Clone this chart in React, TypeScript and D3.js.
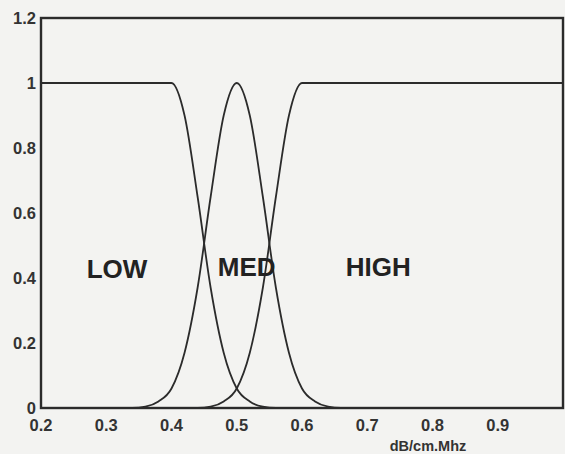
import React from "react";
import * as d3 from "d3";

// sample x positions (dB/cm.Mhz)
const xs = [0.2, 0.34, 0.36, 0.38, 0.4, 0.42, 0.44, 0.46, 0.48, 0.5, 0.52, 0.54, 0.56, 0.58, 0.6, 0.62, 0.64, 0.66, 1.0];

// membership values at those positions
const lowVals = [1, 1, 1, 1, 1, 0.9, 0.65, 0.37, 0.17, 0.06, 0.02, 0.004, 0, 0, 0, 0, 0, 0, 0];
const medVals = [0, 0, 0.004, 0.02, 0.06, 0.17, 0.37, 0.65, 0.9, 1, 0.9, 0.65, 0.37, 0.17, 0.06, 0.02, 0.004, 0, 0];
const highVals = [0, 0, 0, 0, 0, 0, 0, 0.004, 0.02, 0.06, 0.17, 0.37, 0.65, 0.9, 1, 1, 1, 1, 1];

const xTicks = [0.2, 0.3, 0.4, 0.5, 0.6, 0.7, 0.8, 0.9];
const yTicks = [0, 0.2, 0.4, 0.6, 0.8, 1, 1.2];

const setLabels = ["LOW", "MED", "HIGH"];
const labelPos = [
  [0.27, 0.4],
  [0.471, 0.405],
  [0.667, 0.405],
];

const W = 565;
const H = 454;
const margin = { top: 18, right: 2, bottom: 46, left: 41 };

const ink = "#2b2b2b";
const font = "'Liberation Sans', Arial, Helvetica, sans-serif";

export default function App() {
  const x = d3.scaleLinear().domain([0.2, 1.0]).range([margin.left, W - margin.right]);
  const y = d3.scaleLinear().domain([0, 1.2]).range([H - margin.bottom, margin.top]);

  const line = d3
    .line<number>()
    .x((_, i) => x(xs[i]))
    .y((d) => y(d))
    .curve(d3.curveMonotoneX);

  const series = [lowVals, medVals, highVals];
  const fmt = (v: number) => (v === 0 || v === 1 ? String(v) : d3.format(".1f")(v));

  return (
    <svg
      width={W}
      height={H}
      style={{ position: "fixed", left: 0, top: 0, display: "block" }}
      fontFamily={font}
    >
      <rect x={0} y={0} width={W} height={H} fill="#f3f3f1" />

      {series.map((s, i) => (
        <path key={i} d={line(s) || ""} fill="none" stroke={ink} strokeWidth={1.8} />
      ))}

      {/* frame */}
      <rect
        x={x(0.2)}
        y={y(1.2)}
        width={x(1.0) - x(0.2)}
        height={y(0) - y(1.2)}
        fill="none"
        stroke={ink}
        strokeWidth={2.4}
      />

      {yTicks.map((t) => (
        <text
          key={t}
          x={36}
          y={y(t)}
          dy="0.36em"
          textAnchor="end"
          fontSize={16.5}
          fontWeight="bold"
          fill="#333"
        >
          {fmt(t)}
        </text>
      ))}

      {xTicks.map((t) => (
        <text
          key={t}
          x={x(t)}
          y={y(0) + 23}
          textAnchor="middle"
          fontSize={16.5}
          fontWeight="bold"
          fill="#333"
        >
          {fmt(t)}
        </text>
      ))}

      <text
        x={428}
        y={451}
        textAnchor="middle"
        fontSize={14.5}
        fontWeight="bold"
        fill="#333"
      >
        dB/cm.Mhz
      </text>

      {setLabels.map((l, i) => (
        <text
          key={l}
          x={x(labelPos[i][0])}
          y={y(labelPos[i][1])}
          fontSize={26}
          fontWeight="bold"
          fill="#222"
        >
          {l}
        </text>
      ))}
    </svg>
  );
}
